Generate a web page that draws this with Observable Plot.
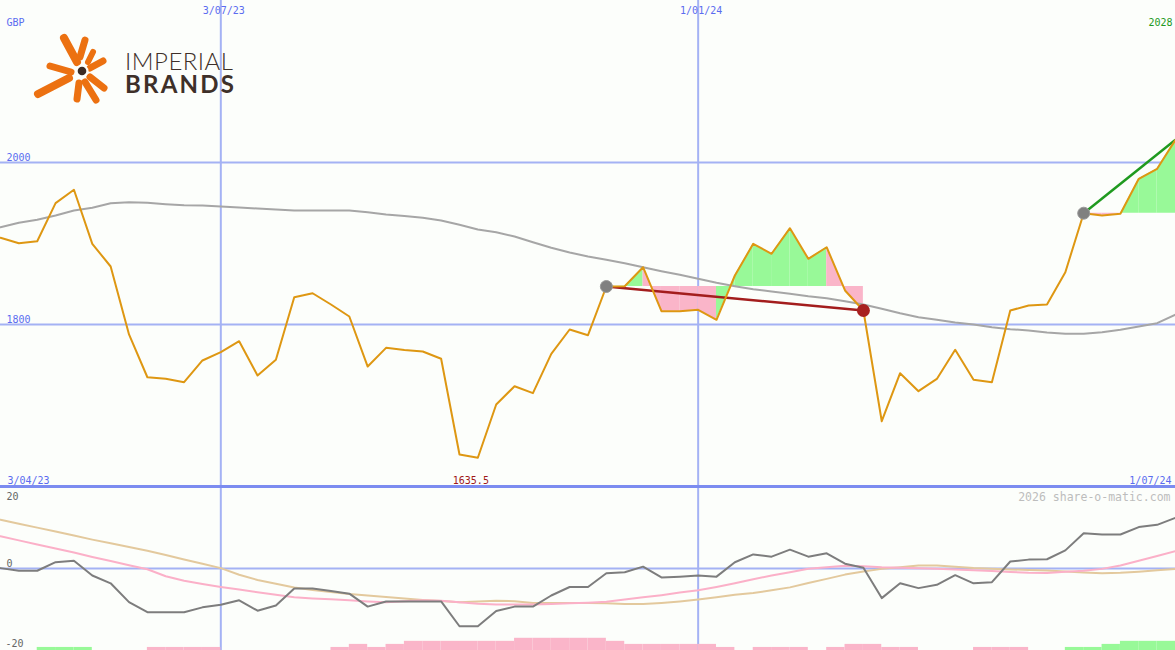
<!DOCTYPE html>
<html><head><meta charset="utf-8">
<script src="https://cdn.jsdelivr.net/npm/d3@7"></script>
<script src="https://cdn.jsdelivr.net/npm/@observablehq/plot@0.6"></script>
<style>
html,body{margin:0;padding:0;background:#fcfefb;}
#chart{position:relative;width:1175px;height:650px;overflow:hidden;background:#fcfefb;}
#chart > svg{position:absolute;left:0;}
#logoText{position:absolute;left:125px;top:50.1px;font-family:Lato,"Open Sans",sans-serif;font-size:24px;line-height:22.6px;font-weight:700;color:#3e3029;white-space:pre;letter-spacing:var(--ls2,0px);}
#logoText::first-line{font-weight:300;letter-spacing:var(--ls1,0px);}
</style></head><body><div id="chart"></div>
<script>
// ---- data ----
const startDate = "2023-04-10";            // first weekly point
const price = [1907.0,1900.4,1902.8,1949.8,1966.3,1899.6,1871.6,1787.7,1734.9,1733.0,
  1728.8,1755.6,1765.8,1779.4,1737.0,1756.4,1833.7,1838.6,1824.7,1809.9,
  1748.1,1771.2,1768.5,1766.7,1757.7,1639.5,1635.5,1701.2,1723.8,1715.2,
  1763.8,1793.8,1786.8,1846.9,1847.3,1870.7,1816.4,1816.4,1818.1,1805.8,
  1860.5,1899.6,1887.3,1918.9,1881.1,1895.4,1842.0,1817.3,1680.6,1739.9,
  1717.7,1732.8,1768.8,1731.7,1728.8,1817.3,1823.5,1824.7,1864.6,1937.4,
  1934.6,1936.7,1979.9,1992.2,2028.0];
const avg = [1920.1,1925.6,1929.3,1934.6,1940.7,1944.1,1949.8,1951.0,1950.2,1948.5,
  1947.3,1946.9,1945.7,1944.4,1943.2,1942.0,1940.7,1940.7,1940.7,1940.7,
  1938.6,1935.8,1934.0,1931.7,1928.4,1923.1,1917.3,1914.0,1908.6,1901.6,
  1894.7,1888.9,1884.0,1879.9,1875.7,1870.7,1865.8,1861.4,1856.4,1851.5,
  1847.3,1843.6,1840.7,1837.9,1834.9,1832.5,1828.8,1824.7,1819.4,1813.9,
  1809.0,1805.8,1802.5,1800.0,1796.7,1794.2,1792.6,1790.1,1788.5,1788.5,
  1790.5,1793.5,1797.5,1801.6,1812.3];
const oscGray = [0.1,-0.6,-0.6,1.7,2.1,-1.9,-4.0,-9.1,-11.8,-11.8,
  -11.8,-10.5,-9.8,-8.6,-11.4,-10.0,-5.4,-5.4,-6.1,-6.8,
  -10.3,-8.9,-8.9,-8.9,-8.9,-15.6,-15.6,-11.5,-10.3,-10.3,
  -7.3,-5.0,-5.0,-1.3,-1.0,0.5,-2.4,-2.2,-1.9,-2.2,
  1.7,3.8,3.2,5.1,3.2,4.1,1.3,0.2,-8.0,-4.0,
  -5.3,-4.4,-1.8,-4.0,-3.7,1.9,2.4,2.5,4.9,9.5,
  9.2,9.2,11.2,11.8,13.7];
const oscPink = [8.7,7.6,6.5,5.4,4.3,3.1,2.0,0.9,-0.2,-2.1,
  -3.3,-4.2,-5.0,-5.7,-6.4,-7.1,-7.8,-8.1,-8.3,-8.6,
  -8.9,-9.1,-8.85,-8.6,-8.7,-9.1,-9.5,-9.7,-9.7,-9.7,
  -9.6,-9.4,-9.25,-9.0,-8.4,-7.8,-7.2,-6.5,-5.9,-5.0,
  -4.0,-2.9,-1.9,-1.0,-0.05,0.35,0.75,0.6,0.33,0.2,
  0.05,-0.1,-0.3,-0.45,-0.7,-0.95,-1.15,-1.2,-0.9,-0.6,
  -0.1,0.8,2.1,3.4,4.7];
const oscTan = [13.2,12.1,11.05,10.0,8.9,7.8,6.8,5.8,4.8,3.65,
  2.45,1.3,0.1,-1.7,-3.1,-4.1,-5.15,-5.8,-6.35,-6.9,
  -7.3,-7.7,-8.1,-8.5,-8.8,-9.1,-8.9,-8.7,-8.85,-9.3,
  -9.3,-9.3,-9.3,-9.4,-9.6,-9.6,-9.3,-8.9,-8.4,-7.8,
  -7.1,-6.6,-5.9,-5.1,-3.9,-2.8,-1.65,-0.8,-0.1,0.35,
  0.8,0.8,0.5,0.15,-0.05,-0.25,-0.4,-0.55,-0.8,-1.05,
  -1.25,-1.15,-0.85,-0.45,-0.1];
const histLevels = [0,0,1,1,1,0,0,0,-1,-1, -1,-1,0,0,0,0,0,0,-1,-2,
  -1,-2,-3,-3,-3,-3,-3,-3,-4,-4, -4,-4,-4,-3,-2,-2,-2,-2,-2,-1,
  0,-1,-1,-1,0,-1,-2,-2,-1,-1, 0,0,0,-1,-1,-1,0,0,1,1, 2,3,3,3];
const tradeEntries = [33, 59];
const tradeExits = [47, 64];
const tradeOpen = [false, true];
const gridDates = ["2023-07-03", "2024-01-01"];
const gridLabels = ["3/07/23", "1/01/24"];
const priceTicks = [2000, 1800];
const oscTicks = [20, 0, -20];
const currency = "GBP";
const startLabel = "3/04/23";
const endLabel = "1/07/24";
const watermark = "2026 share-o-matic.com";
const logoWords = ["IMPERIAL", "BRANDS"];

// ---- derived ----
const dates = price.map((_, i) => d3.utcDay.offset(new Date(startDate), 7 * i));
const rows = price.map((p, i) => ({date: dates[i], price: p, avg: avg[i], gray: oscGray[i], pink: oscPink[i], tan: oscTan[i]}));
const grid = gridDates.map((d, i) => ({date: new Date(d), label: gridLabels[i]}));

const GREEN = "#98f998", PINK = "#fab5c9";
const fillData = [], links = [], entryDots = [], exitDots = [];
tradeEntries.forEach((s, t) => {
  const e = tradeExits[t], base = price[s];
  for (let i = s; i < e; i++) {
    const color = price[i + 1] >= base ? GREEN : PINK;
    const seg = t + "-" + i;
    fillData.push({date: dates[i], lo: base, hi: price[i], seg, color});
    fillData.push({date: dates[i + 1], lo: base, hi: price[i + 1], seg, color});
  }
  links.push({x1: dates[s], y1: base, x2: dates[e], y2: price[e], color: price[e] >= base ? "#1f9a1f" : "#a31d1d"});
  entryDots.push({date: dates[s], price: base});
  if (!tradeOpen[t]) exitDots.push({date: dates[e], price: price[e]});
});
const minIdx = d3.minIndex(price);
const lastPrice = Math.round(price[price.length - 1]);

const BLUE = "#5b6cf0", GRID = "#a4b2f4", FONT = "DejaVu Sans Mono, monospace";
const xDomain = [dates[0], dates[dates.length - 1]];

const OSC_MIN = -22.16, OSC_MAX = 21.89;
const histData = [];
histLevels.forEach((lv, i) => {
  if (lv !== 0) histData.push({x1: dates[i], x2: dates[i + 1], y1: OSC_MIN, y2: OSC_MIN + Math.abs(lv) * 0.825, color: lv > 0 ? GREEN : PINK});
});

// ---- lower panel ----
const lower = Plot.plot({
  width: 1175, height: 163, margin: 0,
  x: {type: "utc", domain: xDomain, axis: null},
  y: {domain: [OSC_MIN, OSC_MAX], axis: null},
  color: {type: "identity"},
  style: {background: "transparent", fontFamily: FONT, fontSize: "10px", overflow: "visible"},
  marks: [
    Plot.ruleX(grid, {x: "date", stroke: GRID, strokeWidth: 2}),
    Plot.ruleY([0], {stroke: GRID, strokeWidth: 2}),
    Plot.rect(histData, {x1: "x1", x2: "x2", y1: "y1", y2: "y2", fill: "color"}),
    Plot.line(rows, {x: "date", y: "tan", stroke: "#e3c99d", strokeWidth: 2}),
    Plot.line(rows, {x: "date", y: "pink", stroke: "#fbb0c8", strokeWidth: 2}),
    Plot.line(rows, {x: "date", y: "gray", stroke: "#7d7d7d", strokeWidth: 2}),
    Plot.text([oscTicks[0]], {y: d => d, text: d => String(d), frameAnchor: "left", textAnchor: "start", lineAnchor: "bottom", dx: 6, dy: 6, fill: "#666"}),
    Plot.text([oscTicks[1]], {y: d => d, text: d => String(d), frameAnchor: "left", textAnchor: "start", lineAnchor: "bottom", dx: 6, dy: -2, fill: "#666"}),
    Plot.text([oscTicks[2]], {y: d => d, text: d => String(d), frameAnchor: "left", textAnchor: "start", lineAnchor: "bottom", dx: 5, dy: 4.7, fill: "#666"}),
    Plot.text([watermark], {text: d => d, frameAnchor: "top-right", textAnchor: "end", lineAnchor: "bottom", dx: -5, dy: 13, fill: "#bdbdbd", fontSize: 11.5})
  ]
});
lower.style.top = "487px";

// ---- main panel ----
const main = Plot.plot({
  width: 1175, height: 489, margin: 0, marginBottom: 3,
  x: {type: "utc", domain: xDomain, axis: null},
  y: {domain: [1600, 2200], axis: null},
  color: {type: "identity"},
  style: {background: "transparent", fontFamily: FONT, fontSize: "10px", overflow: "visible"},
  marks: [
    Plot.ruleX(grid, {x: "date", stroke: GRID, strokeWidth: 2}),
    Plot.ruleY(priceTicks, {stroke: GRID, strokeWidth: 2}),
    Plot.areaY(fillData, {x: "date", y1: "lo", y2: "hi", z: "seg", fill: "color"}),
    Plot.line(rows, {x: "date", y: "avg", stroke: "#a6a6a6", strokeWidth: 2}),
    Plot.link(links, {x1: "x1", y1: "y1", x2: "x2", y2: "y2", stroke: "color", strokeWidth: 2.5}),
    Plot.line(rows, {x: "date", y: "price", stroke: "#de9712", strokeWidth: 2}),
    Plot.dot(entryDots, {x: "date", y: "price", r: 6, fill: "#808080", stroke: "#999", strokeWidth: 1}),
    Plot.dot(exitDots, {x: "date", y: "price", r: 6.5, fill: "#a82020"}),
    Plot.ruleY([1600], {stroke: "#7c8cf0", strokeWidth: 3}),
    Plot.text([currency], {text: d => d, frameAnchor: "top-left", textAnchor: "start", lineAnchor: "bottom", dx: 6, dy: 25, fill: BLUE}),
    Plot.text(grid, {x: "date", text: "label", frameAnchor: "top", textAnchor: "middle", lineAnchor: "bottom", dx: 3, dy: 13, fill: BLUE}),
    Plot.text([String(lastPrice)], {text: d => d, frameAnchor: "top-right", textAnchor: "end", lineAnchor: "bottom", dx: -3, dy: 25.5, fill: "#229922"}),
    Plot.text(priceTicks, {y: d => d, text: d => String(d), frameAnchor: "left", textAnchor: "start", lineAnchor: "bottom", dx: 6, dy: -2, fill: BLUE}),
    Plot.text([startLabel], {text: d => d, frameAnchor: "bottom-left", textAnchor: "start", lineAnchor: "bottom", dx: 7, dy: -3, fill: BLUE}),
    Plot.text([endLabel], {text: d => d, frameAnchor: "bottom-right", textAnchor: "end", lineAnchor: "bottom", dx: -4, dy: -3, fill: BLUE}),
    Plot.text([minIdx], {x: i => dates[i], text: i => d3.format(".1f")(price[i]), frameAnchor: "bottom", textAnchor: "middle", lineAnchor: "bottom", dx: -7, dy: -3, fill: "#a01818"})
  ]
});
main.style.top = "0px";

const chart = document.getElementById("chart");
chart.appendChild(lower);
chart.appendChild(main);

// ---- logo (decoration) ----
const ns = "http://www.w3.org/2000/svg";
const logo = document.createElementNS(ns, "svg");
logo.setAttribute("width", 120); logo.setAttribute("height", 110);
logo.style.top = "0px";
const spokes = [[64,38,77,62,8],[85,40,80,57,7],[93,52,88,62,6],[103,61,90,68,7],[104,88,90,77,7],[96,100,85,82,7],[77,99,79,83,7],[38,94,69,78,8],[50,66,71,72,7]];
let g = "";
spokes.forEach(([a,b,c,d,w]) => { g += `<line x1="${a}" y1="${b}" x2="${c}" y2="${d}" stroke="#ec7111" stroke-width="${w}" stroke-linecap="round"/>`; });
g += `<circle cx="82" cy="71" r="6.5" fill="#fcfefb"/>`;
g += `<circle cx="82" cy="71" r="4.3" fill="#3b2b24"/>`;
logo.innerHTML = g;
chart.appendChild(logo);

// logo words: one text block, first line light, second bold; widths matched via letter-spacing
const targetWidths = [108, 109], weights = [300, 700];
const measure = (w, wt) => {
  const s = document.createElement("span");
  s.textContent = w;
  s.style.cssText = `font-family:Lato,"Open Sans",sans-serif;font-size:24px;font-weight:${wt};position:absolute;visibility:hidden;white-space:nowrap;`;
  document.body.appendChild(s);
  const width = s.getBoundingClientRect().width;
  s.remove();
  return width;
};
const logoText = document.createElement("div");
logoText.id = "logoText";
logoText.textContent = logoWords.join("\n");
logoWords.forEach((w, i) => {
  const n = w.length;
  const ls = (targetWidths[i] - measure(w, weights[i])) / (n - 1);
  logoText.style.setProperty(i === 0 ? "--ls1" : "--ls2", ls.toFixed(2) + "px");
});
chart.appendChild(logoText);
</script>
</body></html>
